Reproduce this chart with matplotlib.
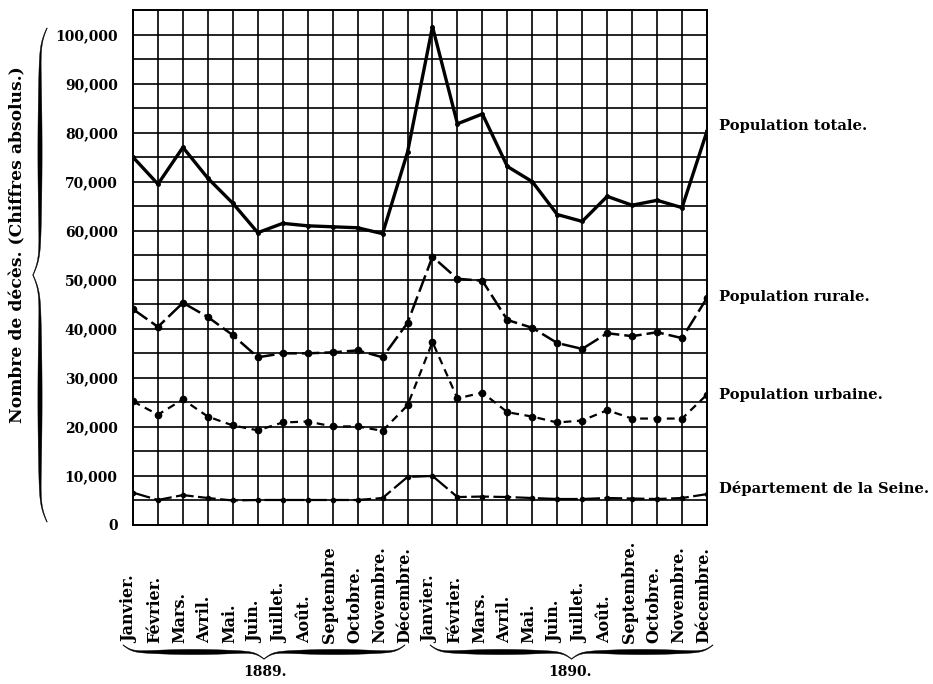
import matplotlib.pyplot as plt
import numpy as np
from matplotlib.patches import Polygon
from matplotlib.transforms import blended_transform_factory

# month names (x axis), two years
months_1889 = ['Janvier.', 'Février.', 'Mars.', 'Avril.', 'Mai.', 'Juin.',
               'Juillet.', 'Août.', 'Septembre', 'Octobre.', 'Novembre.', 'Décembre.']
months_1890 = ['Janvier.', 'Février.', 'Mars.', 'Avril.', 'Mai.', 'Juin.',
               'Juillet.', 'Août.', 'Septembre.', 'Octobre.', 'Novembre.', 'Décembre.']
years = ['1889.', '1890.']

# number of deaths per month
totale = [75000, 69500, 77000, 70700, 65600, 59600, 61500, 61000, 60800, 60600, 59400, 76000,
          101600, 81800, 83800, 73100, 70000, 63300, 61900, 67000, 65200, 66200, 64700, 80300]
rurale = [44000, 40400, 45300, 42400, 38700, 34200, 35000, 35000, 35200, 35600, 34200, 41200,
          54700, 50200, 49800, 41800, 40200, 37100, 35900, 39100, 38500, 39300, 38100, 46300]
urbaine = [25200, 22500, 25600, 22100, 20300, 19300, 20900, 21100, 20100, 20100, 19200, 24400,
           37300, 25800, 27000, 23000, 22100, 20900, 21300, 23400, 21700, 21700, 21700, 26600]
seine = [6600, 5100, 6100, 5500, 5000, 5100, 5100, 5100, 5100, 5100, 5500, 9800,
         10000, 5700, 5800, 5700, 5500, 5300, 5300, 5500, 5400, 5300, 5500, 6300]

series_names = ['Population totale.', 'Population rurale.',
                'Population urbaine.', 'Département de la Seine.']
name_y = [81400, 46500, 26500, 7500]

W, H = 933, 684
FONT = 'DejaVu Serif'


def px(xp, yp):
    """pixel coords (top-left origin) -> figure fraction"""
    return np.asarray(xp) / W, 1 - np.asarray(yp) / H


def brace_shape(n=200, beta=60.0, wmax=4.5):
    # normalized brace: 0 at the ends, ~0.5 body, 1 at the tip
    s = np.linspace(0, 0.5, n)
    half = 1 / (1 + np.exp(-beta * (s - s[0]))) + 1 / (1 + np.exp(-beta * (s - s[-1])))
    curve = np.concatenate([half, half[-2::-1]])
    curve = (curve - curve.min()) / (curve.max() - curve.min())
    t = np.linspace(0, 1, len(curve))
    # stroke width, thickest in the middle of each half
    w = 0.7 + wmax * np.abs(np.sin(2 * np.pi * t)) ** 1.3
    return t, curve, w


def hbrace(fig, x0, x1, y_end, depth):
    t, c, w = brace_shape()
    xs = x0 + (x1 - x0) * t
    ys = y_end + depth * c
    top = np.column_stack(px(xs, ys - w / 2))
    bot = np.column_stack(px(xs, ys + w / 2))
    fig.patches.append(Polygon(np.vstack([top, bot[::-1]]), closed=True, color='black',
                               transform=fig.transFigure, lw=0.3))


def vbrace(fig, y0, y1, x_end, depth):
    t, c, w = brace_shape(wmax=3.5)
    ys = y0 + (y1 - y0) * t
    xs = x_end - depth * c
    left = np.column_stack(px(xs - w / 2, ys))
    right = np.column_stack(px(xs + w / 2, ys))
    fig.patches.append(Polygon(np.vstack([left, right[::-1]]), closed=True, color='black',
                               transform=fig.transFigure, lw=0.3))


fig = plt.figure(figsize=(9.33, 6.84), dpi=100)
ax = fig.add_axes([133 / W, 1 - 525 / H, 574 / W, 515 / H])

x = np.arange(24)
ax.plot(x, totale, color='black', lw=2.4, marker='o', ms=2.5, zorder=3)
ax.plot(x, rurale, color='black', lw=1.8, ls=(0, (7, 2)), marker='o', ms=4.5, zorder=3)
ax.plot(x, urbaine, color='black', lw=1.6, ls=(0, (3.5, 2.5)), marker='o', ms=4.5, zorder=3)
ax.plot(x, seine, color='black', lw=1.6, ls=(0, (8, 2)), marker='o', ms=3, zorder=3)

ax.set_xlim(0, 23)
ax.set_ylim(0, 105000)
ax.set_xticks(x)
ax.set_xticklabels([])
ax.set_yticks(np.arange(0, 100001, 10000))
ax.set_yticks(np.arange(5000, 105001, 10000), minor=True)
ax.set_yticklabels([f'{v:,}' for v in range(0, 100001, 10000)],
                   fontfamily=FONT, fontweight='bold', fontsize=10)
ax.tick_params(axis='both', which='both', length=0, pad=11)
ax.grid(True, which='both', color='black', lw=1.2)
for sp in ax.spines.values():
    sp.set_linewidth(1.4)

# month names, bottom aligned
tr = blended_transform_factory(ax.transData, fig.transFigure)
for i, m in enumerate(months_1889 + months_1890):
    ax.text(i - 0.12, 1 - 643 / H, m, rotation=90, ha='center', va='bottom', transform=tr,
            fontfamily=FONT, fontweight='bold', fontsize=11.5)

# series names on the right
for name, yv in zip(series_names, name_y):
    ax.text(23.5, yv, name, ha='left', va='center', clip_on=False,
            fontfamily=FONT, fontweight='bold', fontsize=10.6)

# year braces and labels
hbrace(fig, 123, 405, 645, 14)
hbrace(fig, 430, 713, 645, 14)
fig.text(*px(265, 672), years[0], ha='center', va='center',
         fontfamily=FONT, fontweight='bold', fontsize=10)
fig.text(*px(570, 672), years[1], ha='center', va='center',
         fontfamily=FONT, fontweight='bold', fontsize=10)

# y label with brace
vbrace(fig, 28, 522, 47, 14)
fig.text(*px(18, 245), 'Nombre de décès. (Chiffres absolus.)', rotation=90,
         ha='center', va='center', fontfamily=FONT, fontweight='bold', fontsize=12.3)

fig.savefig('out.png', dpi=100)
